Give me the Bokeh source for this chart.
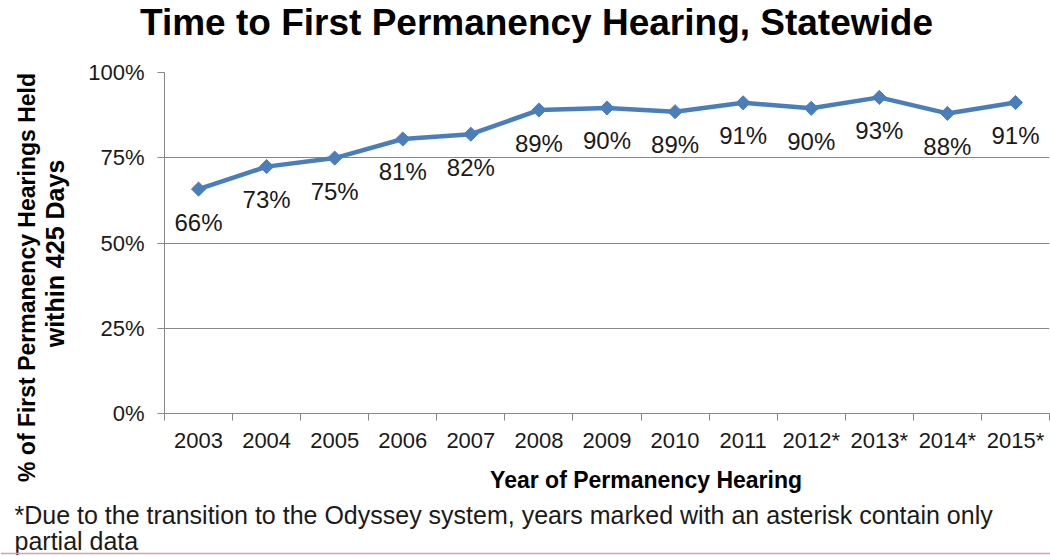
from math import pi
from bokeh.plotting import figure
from bokeh.layouts import column, row
from bokeh.models import (Range1d, FixedTicker, PrintfTickFormatter, Span,
                          ColumnDataSource, CustomJSTickFormatter)
from bokeh.embed import file_html
from bokeh.resources import INLINE
from bokeh.core.properties import value

# ---- data ----
years = ["2003", "2004", "2005", "2006", "2007", "2008", "2009", "2010",
         "2011", "2012*", "2013*", "2014*", "2015*"]
pct = [65.8, 72.4, 74.9, 80.5, 81.9, 89.0, 89.6, 88.5, 91.1, 89.5, 92.7, 88.0, 91.2]
pct_labels = ["66%", "73%", "75%", "81%", "82%", "89%", "90%", "89%", "91%",
              "90%", "93%", "88%", "91%"]
y_ticks = [0, 25, 50, 75, 100]

title_text = "Time to First Permanency Hearing, Statewide"
ylabel_1 = "% of First Permanency Hearings Held"
ylabel_2 = "within 425 Days"
xlabel = "Year of Permanency Hearing"
note_1 = "*Due to the transition to the Odyssey system, years marked with an asterisk contain only"
note_2 = "partial data"

# ---- style ----
FONT = "Liberation Sans"
BLUE = "#4a7ebb"
GRAY = "#878787"
TXT = "#1a1a1a"
W, H = 1050, 556


def text_panel(x0, x1, top, bottom):
    """A bare figure covering page box [x0,x1] x [top,bottom]; data coords = page px
    (y measured upward from the page bottom)."""
    f = figure(width=x1 - x0, height=bottom - top,
               x_range=Range1d(x0, x1), y_range=Range1d(H - bottom, H - top),
               x_axis_type=None, y_axis_type=None, toolbar_location=None,
               title_location=None, output_backend="svg", min_border=0)
    f.outline_line_color = None
    f.grid.visible = False
    return f


def put(f, x, y, text, size, bold=False, align="left", angle=0.0):
    f.text(x=[x], y=[H - y], text=[text], text_font=value(FONT),
           text_font_size=size, text_font_style="bold" if bold else "normal",
           text_align=align, text_baseline="middle", angle=angle,
           text_color="#000000" if bold else TXT)


# title strip
t_fig = text_panel(0, W, 0, 46)
put(t_fig, 536, 22, title_text, "37px", bold=True, align="center")

# y-label strip
yl_fig = text_panel(0, 76, 46, 500)
put(yl_fig, 26, 277, ylabel_1, "23px", bold=True, align="center", angle=pi / 2)
put(yl_fig, 54, 253, ylabel_2, "25px", bold=True, align="center", angle=pi / 2)

# main chart
xs = [i + 0.5 for i in range(len(years))]
src = ColumnDataSource(dict(x=xs, y=pct, label=pct_labels))

p = figure(width=W - 76, height=414,
           x_range=Range1d(0, len(years)), y_range=Range1d(0, 100),
           output_backend="svg", toolbar_location=None, title_location=None,
           min_border_left=88, min_border_right=1,
           min_border_top=26, min_border_bottom=47)
p.outline_line_color = None

p.xaxis.ticker = FixedTicker(ticks=xs, minor_ticks=list(range(len(years) + 1)))
p.xaxis.formatter = CustomJSTickFormatter(args=dict(labels=years),
                                          code="return labels[Math.floor(tick)] || '';")
p.xaxis.major_tick_out = 0
p.xaxis.major_tick_in = 0
p.xaxis.minor_tick_out = 7
p.xaxis.minor_tick_in = 0
p.xaxis.minor_tick_line_color = GRAY
p.xaxis.axis_line_color = GRAY
p.xaxis.major_label_text_font = FONT
p.xaxis.major_label_text_font_size = "22px"
p.xaxis.major_label_text_color = TXT
p.xaxis.major_label_standoff = 7

p.yaxis.ticker = FixedTicker(ticks=y_ticks)
p.yaxis.formatter = PrintfTickFormatter(format="%d%%")
p.yaxis.major_tick_out = 7
p.yaxis.major_tick_in = 0
p.yaxis.minor_tick_line_color = None
p.yaxis.major_tick_line_color = GRAY
p.yaxis.axis_line_color = GRAY
p.yaxis.major_label_text_font = FONT
p.yaxis.major_label_text_font_size = "22px"
p.yaxis.major_label_text_color = TXT
p.yaxis.major_label_standoff = 13

p.xgrid.visible = False
p.ygrid.ticker = FixedTicker(ticks=y_ticks)
p.ygrid.grid_line_color = GRAY
p.ygrid.grid_line_width = 1

p.line("x", "y", source=src, line_color=BLUE, line_width=4.5)
p.scatter("x", "y", source=src, marker="square", size=10, angle=pi / 4,
          fill_color=BLUE, line_color=BLUE)
p.text("x", "y", text="label", source=src, text_font=value(FONT),
       text_font_size="24px", text_align="center", text_baseline="middle",
       y_offset=33, text_color=TXT)

# x-label strip
xl_fig = text_panel(76, W, 460, 500)
put(xl_fig, 606, 479, xlabel, "23px", bold=True, align="center")

# footnote strip
n_fig = text_panel(0, W, 500, H)
put(n_fig, 14, 514, note_1, "25px")
put(n_fig, 14, 540, note_2, "25px")
n_fig.add_layout(Span(location=H - 553, dimension="width",
                      line_color="#d4a5a5", line_width=1.5))

layout = column(t_fig, row(yl_fig, column(p, xl_fig)), n_fig)
open("out.html", "w").write(file_html(layout, INLINE))
